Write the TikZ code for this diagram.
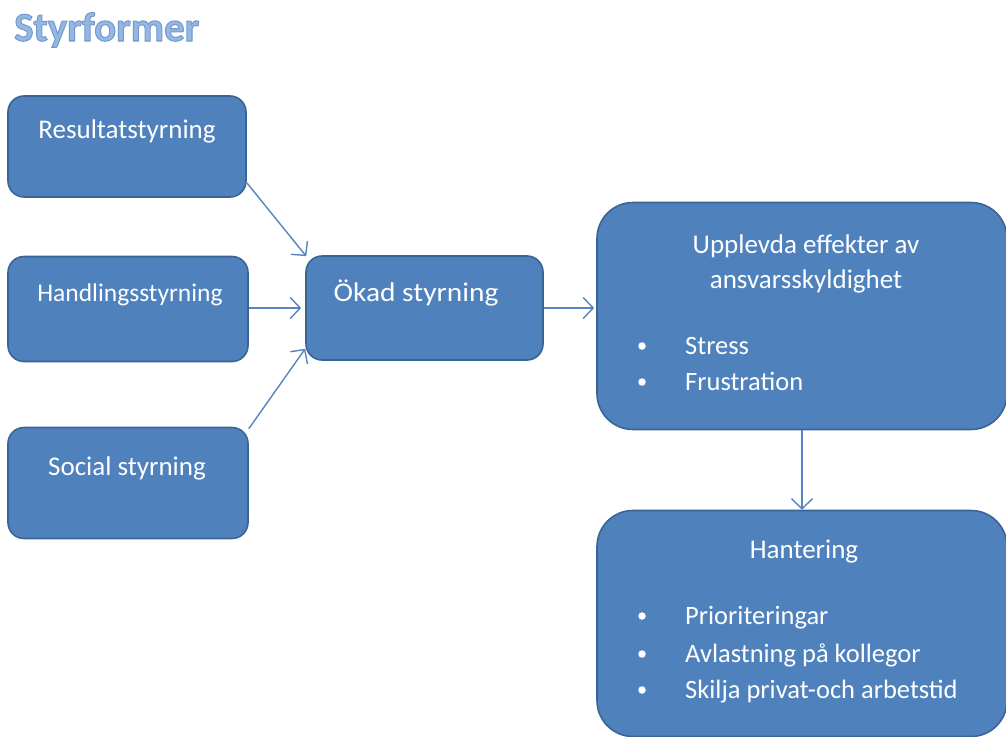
\documentclass[tikz,border=0pt]{standalone}
\usepackage{fontspec}
\usepackage{graphicx}
\setmainfont{Carlito}
\usetikzlibrary{arrows.meta}
\definecolor{boxfill}{HTML}{4F81BD}
\definecolor{boxline}{HTML}{3A6496}
\definecolor{arrowcol}{HTML}{5585C0}
\definecolor{titlecol}{HTML}{95B8E3}
\tikzset{
  x=1pt, y=-1pt,
  smallbox/.style={draw=boxline, line width=1.6pt, fill=boxfill, rounded corners=16pt, inner sep=0pt},
  bigbox/.style={draw=boxline, line width=1.6pt, fill=boxfill, rounded corners=36pt, inner sep=0pt},
  lbl/.style={text=white, anchor=base, inner sep=0pt, font=\fontsize{27}{32}\selectfont},
  biglbl/.style={text=white, anchor=base, inner sep=0pt, font=\fontsize{27}{32}\selectfont},
  item/.style={text=white, anchor=base west, inner sep=0pt, font=\fontsize{26.5}{32}\selectfont},
  bul/.style={fill=white, circle, inner sep=0pt, minimum size=7.5pt},
  conn/.style={draw=arrowcol, line width=1.4pt, -{Straight Barb[length=10pt, width=21pt, line width=1.4pt]}}
}
\begin{document}
\begin{tikzpicture}
\useasboundingbox (0,0) rectangle (1006,736);
% title
\node[anchor=base west, inner sep=0pt, text=titlecol, font=\fontsize{41}{48}\bfseries] (title) at (14,41)
  {\special{pdf:literal direct 2 Tr 1 w 0.45 0.6 0.8 RG}Styrformer\special{pdf:literal direct 0 Tr}};
% boxes
\node[smallbox, minimum width=238pt, minimum height=101pt] (res) at (127,146.5) {};
\node[smallbox, minimum width=240pt, minimum height=105pt] (hand) at (128,309) {};
\node[smallbox, minimum width=240pt, minimum height=111pt] (soc) at (128,483) {};
\node[smallbox, minimum width=237pt, minimum height=104pt] (okad) at (424.5,308) {};
\node[bigbox, minimum width=410pt, minimum height=227pt] (upp) at (802,316) {};
\node[bigbox, minimum width=410pt, minimum height=226pt] (han) at (802,623.5) {};
% labels
\node[lbl] (tres) at (127,138) {Resultatstyrning};
\node[lbl, font=\fontsize{25.5}{30}\selectfont] (thand) at (130,301) {Handlingsstyrning};
\node[lbl] (tsoc) at (127,475) {Social styrning};
\node[lbl] (tokad) at (416,301) {\scalebox{1.09}[1]{Ökad styrning}};
\node[biglbl] (tupp1) at (806,253) {Upplevda effekter av};
\node[biglbl] (tupp2) at (806,288) {ansvarsskyldighet};
\node[bul] (b1) at (642,346) {};
\node[item] (i1) at (685,354) {Stress};
\node[bul] (b2) at (642,382) {};
\node[item] (i2) at (685,390) {Frustration};
\node[biglbl] (than) at (804,558) {Hantering};
\node[bul] (b3) at (642,616) {};
\node[item] (i3) at (685,624) {Prioriteringar};
\node[bul] (b4) at (642,654) {};
\node[item] (i4) at (685,662) {Avlastning på kollegor};
\node[bul] (b5) at (642,690) {};
\node[item] (i5) at (685,698) {Skilja privat-och arbetstid};
% connectors
\draw[conn] ([yshift=15pt]res.south east) -- ([xshift=1pt,yshift=-1pt]okad.north west);
\draw[conn] (hand.east |- okad.west) -- ([xshift=-4pt]okad.west);
\draw[conn] ([yshift=-2pt]soc.north east) -- ([yshift=12pt]okad.south west);
\draw[conn] (okad.east) -- ([xshift=-2pt]upp.west |- okad.east);
\draw[conn] (upp.south) -- (han.north);
\end{tikzpicture}
\end{document}
